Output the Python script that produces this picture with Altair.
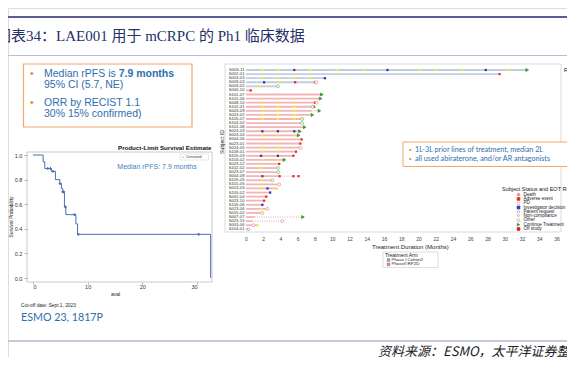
import altair as alt
import pandas as pd

# ---------------- data ----------------
# Kaplan-Meier (rPFS) step curve
km_time = [0, 1.85, 2.15, 3.35, 4.1, 4.9, 5.2, 5.45, 5.75, 6.0, 7.85, 8.15, 32.5, 32.5]
km_surv = [1.0, 0.945, 0.89, 0.867, 0.80, 0.767, 0.726, 0.70, 0.577, 0.515, 0.44, 0.355, 0.355, 0.0]
cens_time = [2.7, 3.2, 3.65, 4.95, 5.45, 5.6, 5.95, 7.6, 8.3, 30.3]
cens_surv = [0.89, 0.89, 0.867, 0.767, 0.70, 0.70, 0.577, 0.515, 0.355, 0.355]
km_x_ticks = [0, 10, 20, 30]
km_y_ticks = [0.0, 0.2, 0.4, 0.6, 0.8, 1.0]

# Swimmer plot
subjects = ["S006-11", "S002-01", "S003-03", "S009-03", "S003-02", "S006-10", "S101-07", "S101-06",
            "S008-10", "S102-01", "S003-09", "S024-02", "S105-07", "S104-02", "S101-08", "S024-03",
            "S024-04", "S004-06", "S023-01", "S024-05", "S109-01", "S105-03", "S103-02", "S023-12",
            "S102-02", "S023-07", "S004-08", "S105-05", "S101-05", "S013-03", "S105-02", "S002-04",
            "S023-10", "S105-06", "S023-06", "S015-02", "S007-07", "S023-15", "S003-06", "S104-01"]
arm = ["Phase I Cohort2"] * 5 + ["PhaseII RP2D"] * 35
duration = [32.6, 29.4, 9.2, 8.1, 3.7, 0.55, 8.8, 8.65, 8.1, 7.9, 7.6, 7.7, 6.5, 6.5, 6.8, 6.25,
            6.1, 6.45, 6.3, 6.35, 5.8, 5.5, 4.45, 3.85, 3.7, 3.75, 3.9, 3.05, 3.85, 3.6, 2.8, 2.35,
            2.1, 1.9, 2.5, 1.9, 1.0, 0.8, 1.35, 0.27]
ext_subject = ["S003-09", "S004-08", "S007-07", "S023-15"]
ext_start = [7.6, 3.9, 1.0, 0.8]
ext_end = [8.5, 6.1, 6.6, 4.2]

resp_subject = (["S006-11"] * 12 + ["S002-01"] + ["S003-03"] * 5 + ["S009-03"] * 4 + ["S003-02"]
                + ["S006-10"] + ["S008-10"] * 4 + ["S102-01"] * 4 + ["S003-09"] * 3 + ["S024-02"] * 3
                + ["S105-07"] * 3 + ["S024-03"] * 3 + ["S024-04"] * 3 + ["S004-06"] + ["S023-01"]
                + ["S024-05"] * 2 + ["S109-01"] * 3 + ["S105-03"] * 3 + ["S103-02"] * 2 + ["S023-12"]
                + ["S102-02"] + ["S004-08"] * 4 + ["S105-05"] + ["S013-03"] * 3 + ["S105-02"]
                + ["S002-04"] + ["S023-10"] + ["S105-06"] + ["S023-06"] + ["S003-06"])
resp_time = ([1.9, 3.7, 5.6, 7.45, 10.5, 13.7, 16.4, 20.1, 22.0, 25.0, 27.8, 30.5] + [29.4]
             + [1.9, 3.7, 5.6, 7.45, 9.15] + [2.1, 3.9, 5.7, 8.0] + [1.7] + [0.55]
             + [1.9, 3.7, 5.6, 8.0] + [1.9, 3.7, 5.6, 7.9] + [2.1, 3.7, 5.6] + [1.9, 3.7, 5.6]
             + [1.9, 3.7, 5.6] + [1.9, 3.7, 5.6] + [1.9, 3.7, 5.6] + [6.45] + [6.3]
             + [1.9, 3.7] + [1.9, 3.7, 5.8] + [1.75, 3.7, 5.5] + [1.9, 3.7] + [3.85]
             + [1.7] + [1.9, 3.9, 5.5, 6.1] + [1.9] + [1.8, 2.5, 3.6] + [2.8]
             + [2.35] + [2.1] + [1.9] + [1.8] + [1.35])
resp_type = (["SD", "SD", "NE", "SD", "SD", "SD", "PR", "SD", "SD", "SD", "PR", "SD"] + ["PD"]
             + ["SD", "SD", "SD", "SD", "PR"] + ["PR", "SD", "PD", "PD"] + ["SD"] + ["PD"]
             + ["SD", "SD", "SD", "PD"] + ["SD", "SD", "SD", "PD"] + ["SD"] * 3 + ["SD"] * 3
             + ["SD"] * 3 + ["PR"] * 3 + ["SD"] * 3 + ["PD"] + ["PD"]
             + ["SD", "SD"] + ["SD", "SD", "PD"] + ["PR", "PR", "PD"] + ["SD", "SD"] + ["PD"]
             + ["SD"] + ["NE", "PD", "PD", "PD"] + ["SD"] + ["SD", "PR", "SD"] + ["PR"]
             + ["PD"] + ["PD"] + ["PR"] + ["SD"] + ["SD"])
resp_levels = ["CR", "PR", "SD", "PD", "NE"]
resp_colors = ["#3c9a3c", "#2a2ed0", "#f3ee3a", "#e42a2a", "#7b2f62"]

status_subject = ["S006-11", "S009-03", "S003-02", "S101-07", "S101-06", "S008-10", "S102-01",
                  "S003-09", "S024-02", "S105-07", "S104-02", "S101-08", "S024-03", "S024-04",
                  "S024-05", "S103-02", "S102-02", "S023-07", "S105-05", "S101-05", "S023-06",
                  "S015-02", "S007-07", "S023-15", "S003-06", "S104-01"]
status_time = [32.6, 8.15, 3.7, 8.8, 8.65, 8.2, 7.7, 8.5, 7.7, 6.5, 6.5, 6.8, 6.25, 6.1,
               6.35, 4.45, 3.7, 3.75, 3.05, 3.85, 2.5, 1.9, 6.6, 4.2, 0.85, 0.27]
status_type = ["Continue Treatment", "PD", "Other", "Continue Treatment", "Continue Treatment", "PD",
               "Other", "Continue Treatment", "Continue Treatment", "Other", "Other",
               "Continue Treatment", "Continue Treatment", "Continue Treatment", "PD",
               "Continue Treatment", "Other", "Other", "Other", "PD", "PD", "PD",
               "Continue Treatment", "PD", "PD", "Patient request"]
status_levels = ["Death", "Adverse event", "PD", "Investigator decision", "Patient request",
                 "Non-compliance", "Other", "Continue Treatment", "Off study"]
status_stroke = ["#f08a8a", "#e02c2c", "#e79a9a", "#2a34c4", "#8d84c4", "#f0a0a0", "#7fbf7f",
                 "#3a9a3a", "#d81e1e"]
status_fill = ["#f08a8a", "#e02c2c", "white", "#2a34c4", "white", "white", "white", "#3a9a3a",
               "#d81e1e"]
status_shape = ["cross", "square", "circle", "square", "diamond", "triangle-down", "circle",
                "triangle-right", "square"]
arm_levels = ["Phase I Cohort2", "PhaseII RP2D"]
arm_colors = ["#c3cedd", "#f2b5b5"]
arm_legend_colors = ["#93a9c8", "#de8c8c"]
swim_x_ticks = list(range(0, 39, 2))

# ---------------- layout helpers ----------------
# The page has an 8px margin; the chart covers reference pixels 8..567 x 8..357.
W, H = 559, 349


def X(v):
    return v - 8


def Y(v):
    return v - 8


one = pd.DataFrame({"k": [0]})
SANS = "Liberation Sans"
SLIDE_BLUE = "#2f6fae"
ORANGE = "#f2a66a"


def txt(s, x, y, size, color="#222", align="left", weight="normal", font=SANS, angle=0,
        style="normal", baseline="middle"):
    return alt.Chart(one).mark_text(text=s, align=align, baseline=baseline, fontSize=size,
                                    color=color, fontWeight=weight, font=font, angle=angle,
                                    fontStyle=style).encode(x=alt.value(X(x)), y=alt.value(Y(y)))


def hline(x1, x2, y, color, w):
    return alt.Chart(one).mark_rule(color=color, strokeWidth=w).encode(
        x=alt.value(X(x1)), x2=alt.value(X(x2)), y=alt.value(Y(y)))


def box(x1, y1, x2, y2, stroke, w=1.0, fill="white"):
    return alt.Chart(one).mark_rect(fill=fill, stroke=stroke, strokeWidth=w).encode(
        x=alt.value(X(x1)), x2=alt.value(X(x2)), y=alt.value(Y(y1)), y2=alt.value(Y(y2)))


layers = []

# ---------------- page furniture ----------------
layers += [
    hline(0, 575, 17, "#5b5e95", 2),
    txt("图表34：LAE001 用于 mCRPC 的 Ph1 临床数据", -4, 35.5, 15, color="#27306a",
        font="Liberation Serif, Noto Sans CJK SC"),
    hline(0, 575, 55.5, "#b9bbd9", 1.2),
    hline(0, 575, 341, "#b4b6d6", 1.5),
    txt("资料来源：ESMO，太平洋证券整理", 378, 351.5, 13, color="#222", style="italic",
        font="Noto Sans CJK SC"),
]

# ---------------- left text box ----------------
FS = 10.5
layers += [
    box(23.5, 64, 192, 127, ORANGE, 1.2),
    txt("•", 30, 74, FS, color="#e8872b"),
    txt("Median rPFS is ", 44, 74, FS, color=SLIDE_BLUE),
    txt("7.9 months", 44 + 7.113 * FS, 74, FS, color=SLIDE_BLUE, weight="bold"),
    txt("95% CI (5.7, NE)", 44, 84.5, FS, color=SLIDE_BLUE),
    txt("•", 30, 103, FS, color="#e8872b"),
    txt("ORR by RECIST 1.1", 44, 103, FS, color=SLIDE_BLUE),
    txt("30% 15% confirmed)", 44, 113.5, FS, color=SLIDE_BLUE),
]

# ---------------- KM plot ----------------
KM_BLUE = "#4a6fb5"
km_df = pd.DataFrame({"t": km_time, "s": km_surv, "i": list(range(len(km_time)))})
cens_df = pd.DataFrame({"t": cens_time, "s": cens_surv})
kx = alt.Scale(domain=[0, 30], range=[X(33), X(197)], nice=False, zero=False)
ky = alt.Scale(domain=[0, 1], range=[Y(278), Y(155)], nice=False, zero=False)

layers += [
    box(27, 152, 212, 282, "#bdbdbd", 0.8, fill="transparent"),
    txt("Product-Limit Survival Estimate", 118, 147.5, 6.2, color="#111", weight="bold"),
    alt.Chart(km_df).mark_line(interpolate="step-after", color=KM_BLUE, strokeWidth=1).encode(
        x=alt.X("t:Q", scale=kx, axis=alt.Axis(
            orient="bottom", offset=Y(282) - H, values=km_x_ticks, title="aval", domain=False,
            tickSize=2, tickColor="#777", tickWidth=0.6, labelFontSize=5.5, labelPadding=0.5,
            labelColor="#333", titleFontSize=5, titleFontWeight="normal", titlePadding=1.5,
            titleColor="#222", grid=False)),
        y=alt.Y("s:Q", scale=ky, axis=alt.Axis(
            orient="left", offset=-X(27), values=km_y_ticks, format=".1f",
            title="Survival Probability", domain=False, tickSize=3, tickColor="#777",
            tickWidth=0.6, labelFontSize=5.5, labelPadding=2.2, labelColor="#333",
            titleFontSize=4.8, titleFontWeight="normal", titlePadding=1, titleColor="#222",
            grid=False)),
        order="i:Q"),
    alt.Chart(cens_df).mark_point(shape="cross", filled=True, size=8, color=KM_BLUE, opacity=1).encode(
        x=alt.X("t:Q", scale=kx, axis=None),
        y=alt.Y("s:Q", scale=ky, axis=None)),
    box(180, 154, 208.5, 160, "#cfcfcf", 0.5),
    txt("+", 183, 157, 4, color=KM_BLUE, align="center"),
    txt("Censored", 186, 157, 3.6, color="#333"),
    txt("Median rPFS: 7.9 months", 157, 166.5, 7, color="#3f7fc0", align="center"),
    txt("Cut-off date: Sept 1, 2023", 21, 306, 4.8, color="#222"),
    txt("ESMO 23, 1817P", 21, 318, 10.7, color="#2e6ea9", font="Lato"),
]

# ---------------- swimmer plot ----------------
sx = alt.Scale(domain=[0, 38], range=[X(246), X(246 + 38 * 8.625)], nice=False, zero=False)
sy = alt.Scale(type="point", domain=subjects, range=[Y(70), Y(229.3)], padding=0)
resp_scale = alt.Scale(domain=resp_levels, range=resp_colors)
st_stroke = alt.Scale(domain=status_levels, range=status_stroke)
st_fill = alt.Scale(domain=status_levels, range=status_fill)
st_shape = alt.Scale(domain=status_levels, range=status_shape)

bar_df = pd.DataFrame({"subject": subjects, "arm": arm, "start": [0] * len(subjects), "end": duration})
ext_df = pd.DataFrame({"subject": ext_subject, "start": ext_start, "end": ext_end})
resp_df = pd.DataFrame({"subject": resp_subject, "t": resp_time, "resp": resp_type})
stat_df = pd.DataFrame({"subject": status_subject, "t": status_time, "status": status_type})
subj_df = pd.DataFrame({"subject": subjects})

layers += [
    box(225, 64, 561, 232, "#d0d0d0", 0.8, fill="transparent"),
    txt("Subject ID", 221.5, 142, 5.2, color="#222", align="center", angle=270),
    alt.Chart(subj_df).mark_text(align="right", fontSize=4.2, color="#333", baseline="middle").encode(
        x=alt.value(X(244.5)),
        y=alt.Y("subject:N", scale=sy, axis=None),
        text="subject:N"),
    alt.Chart(bar_df).mark_bar(height=1.8).encode(
        x=alt.X("start:Q", scale=sx, axis=alt.Axis(
            orient="bottom", offset=Y(232) - H, values=swim_x_ticks, title="Treatment Duration (Months)",
            domain=False, ticks=False, tickSize=0, labelFontSize=5, labelPadding=4.5,
            labelColor="#444", labelFlush=False, labelOverlap=False, titleFontSize=6,
            titleFontWeight="normal", titleColor="#222", titlePadding=2, grid=False)),
        x2="end:Q",
        y=alt.Y("subject:N", scale=sy, axis=None),
        color=alt.Color("arm:N", scale=alt.Scale(domain=arm_levels, range=arm_colors), legend=None)),
    alt.Chart(ext_df).mark_rule(strokeDash=[1, 1.3], strokeWidth=0.9, color="#e3a3a3").encode(
        x=alt.X("start:Q", scale=sx, axis=None),
        x2="end:Q",
        y=alt.Y("subject:N", scale=sy, axis=None)),
    alt.Chart(resp_df).mark_point(shape="square", filled=True, size=5, opacity=1).encode(
        x=alt.X("t:Q", scale=sx, axis=None),
        y=alt.Y("subject:N", scale=sy, axis=None),
        color=alt.Color("resp:N", scale=resp_scale, legend=None)),
    alt.Chart(stat_df).mark_point(size=9, strokeWidth=0.8, opacity=1).encode(
        x=alt.X("t:Q", scale=sx, axis=None),
        y=alt.Y("subject:N", scale=sy, axis=None),
        stroke=alt.Stroke("status:N", scale=st_stroke, legend=None),
        fill=alt.Fill("status:N", scale=st_fill, legend=None),
        shape=alt.Shape("status:N", scale=st_shape, legend=None)),
]

# ---------------- swimmer legends (drawn from the category lists) ----------------
resp_leg = pd.DataFrame({"resp": resp_levels})
resp_ly = alt.Scale(type="point", domain=resp_levels, range=[Y(74), Y(92)], padding=0)
stat_leg = pd.DataFrame({"status": status_levels})
stat_ly = alt.Scale(type="point", domain=status_levels, range=[Y(194.6), Y(229)], padding=0)
arm_leg = pd.DataFrame({"arm": arm_levels})
arm_ly = alt.Scale(type="point", domain=arm_levels, range=[Y(260), Y(264.4)], padding=0)

layers += [
    # Response
    txt("Response", 564, 69.5, 5.8, color="#222"),
    alt.Chart(resp_leg).mark_point(shape="square", filled=True, size=5, opacity=1).encode(
        x=alt.value(X(572)),
        y=alt.Y("resp:N", scale=resp_ly, axis=None),
        color=alt.Color("resp:N", scale=resp_scale, legend=None)),
    alt.Chart(resp_leg).mark_text(align="left", fontSize=4.5, color="#222", baseline="middle").encode(
        x=alt.value(X(576)),
        y=alt.Y("resp:N", scale=resp_ly, axis=None),
        text="resp:N"),
    # Subject status
    txt("Subject Status and EOT Reason", 502, 189.2, 5.5, color="#222"),
    alt.Chart(stat_leg).mark_point(size=8, strokeWidth=0.7, opacity=1).encode(
        x=alt.value(X(518.5)),
        y=alt.Y("status:N", scale=stat_ly, axis=None),
        stroke=alt.Stroke("status:N", scale=st_stroke, legend=None),
        fill=alt.Fill("status:N", scale=st_fill, legend=None),
        shape=alt.Shape("status:N", scale=st_shape, legend=None)),
    alt.Chart(stat_leg).mark_text(align="left", fontSize=4.6, color="#222", baseline="middle").encode(
        x=alt.value(X(523.5)),
        y=alt.Y("status:N", scale=stat_ly, axis=None),
        text="status:N"),
    # Treatment arm
    box(383, 252, 438, 267.5, "#c8c8c8", 0.6),
    txt("Treatment Arm", 385, 255, 5, color="#222"),
    alt.Chart(arm_leg).mark_square(size=9, stroke="#777", strokeWidth=0.3, opacity=1).encode(
        x=alt.value(X(388.5)),
        y=alt.Y("arm:N", scale=arm_ly, axis=None),
        color=alt.Color("arm:N", scale=alt.Scale(domain=arm_levels, range=arm_legend_colors),
                        legend=None)),
    alt.Chart(arm_leg).mark_text(align="left", fontSize=4.4, color="#222", baseline="middle").encode(
        x=alt.value(X(391.5)),
        y=alt.Y("arm:N", scale=arm_ly, axis=None),
        text="arm:N"),
]

# ---------------- right text box ----------------
layers += [
    box(403, 142, 573, 166.5, ORANGE, 1.0),
    txt("•", 409, 149.5, 7, color="#e8872b"),
    txt("1L-3L prior lines of treatment, median 2L", 415, 149.5, 7.2, color=SLIDE_BLUE, font="Lato"),
    txt("•", 409, 159, 7, color="#e8872b"),
    txt("all used abiraterone, and/or AR antagonists", 415, 159, 7.2, color=SLIDE_BLUE, font="Lato"),
]

chart = alt.layer(*layers).resolve_scale(
    x="independent", y="independent", color="independent", fill="independent",
    stroke="independent", shape="independent"
).properties(
    width=W, height=H, padding=0, autosize=alt.AutoSizeParams(type="none"), background="white"
).configure_view(strokeOpacity=0).configure(font=SANS)

chart.save("out.html", embed_options={"renderer": "svg", "actions": False})
